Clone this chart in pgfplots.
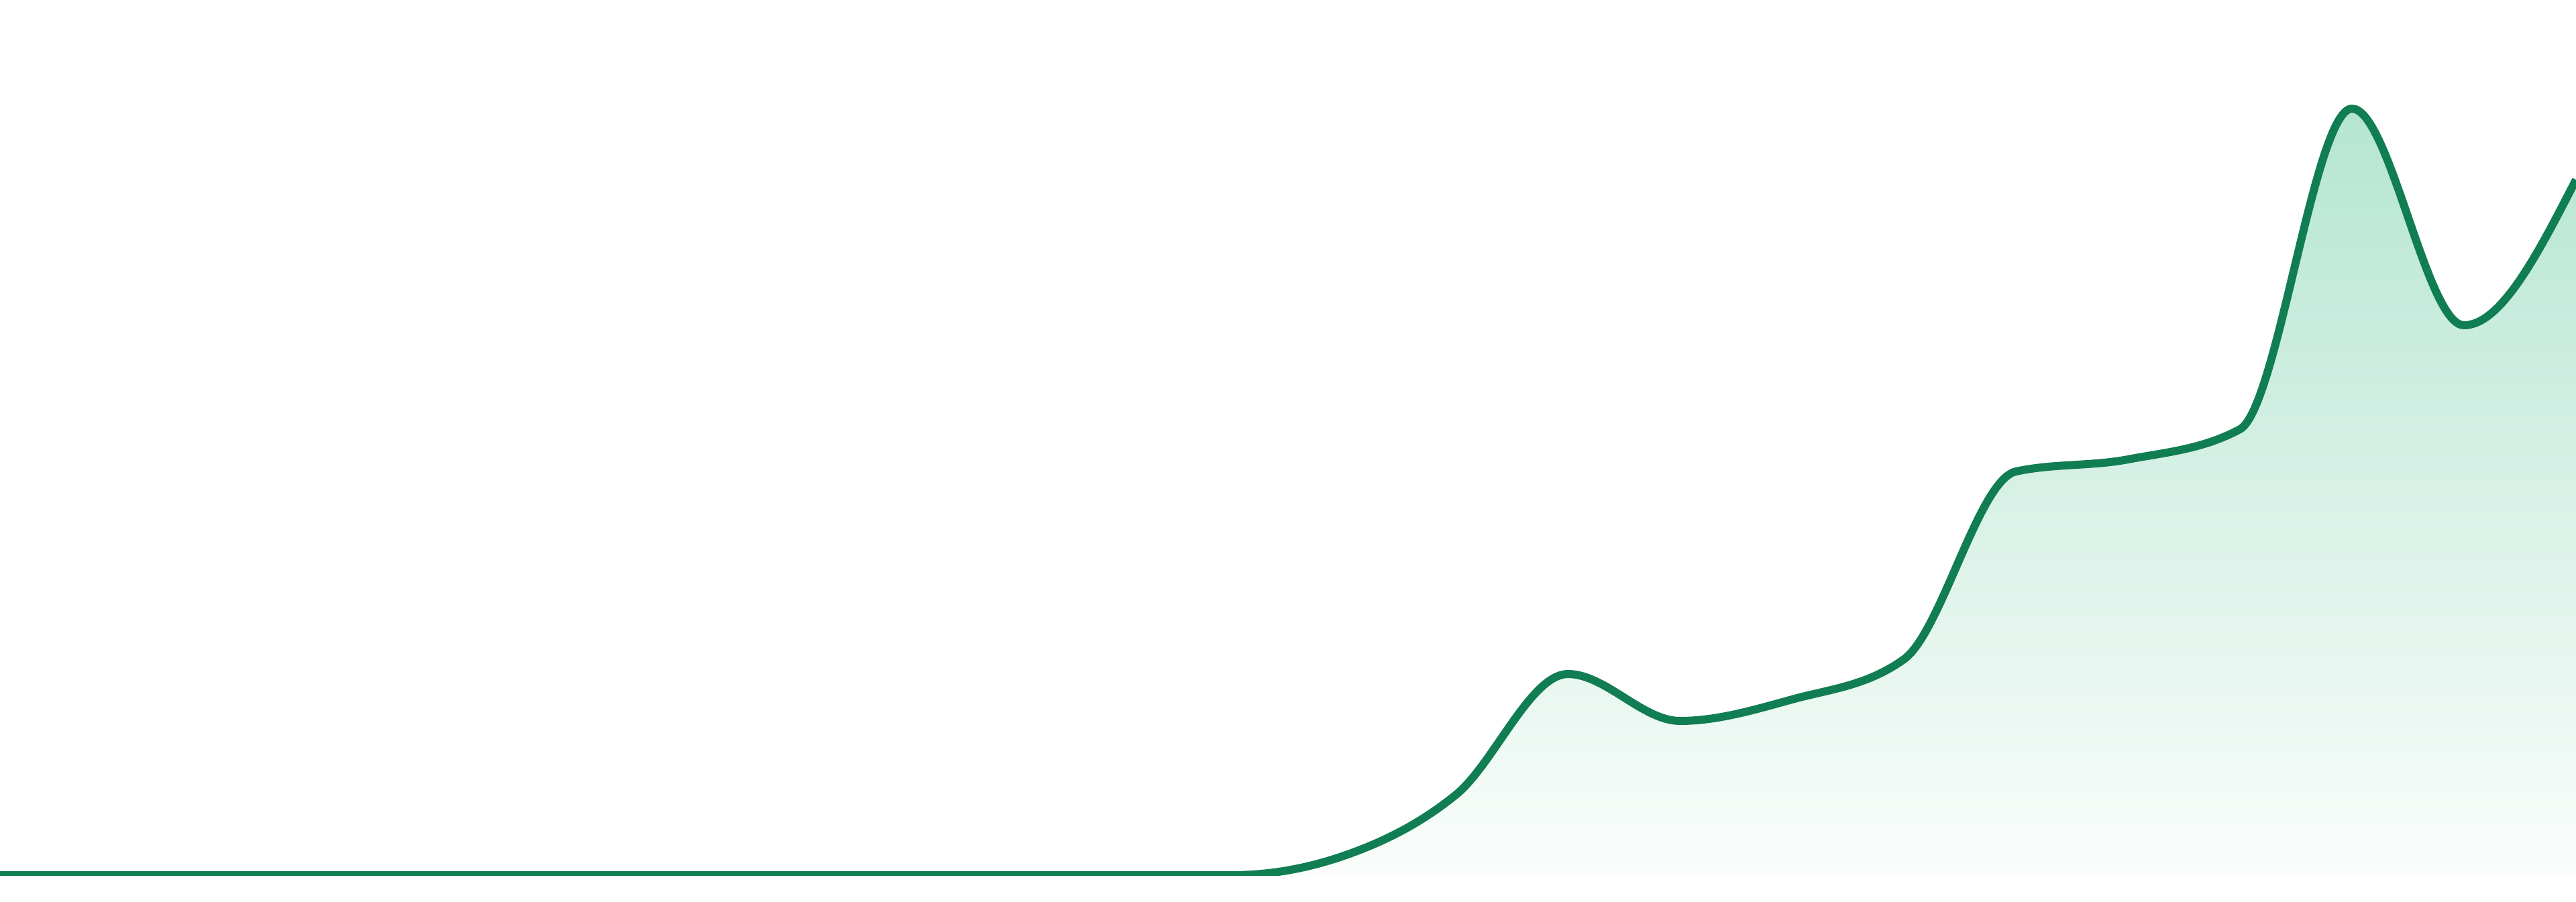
\documentclass[border=0pt]{standalone}
\usepackage{pgfplots}
\pgfplotsset{compat=1.18}
\definecolor{linegreen}{RGB}{17,125,82}
\definecolor{filltop}{RGB}{181,229,211}
\definecolor{fillbot}{RGB}{250,253,251}
\makeatletter
% monotone cubic interpolation (as in d3 curveMonotoneX)
\def\mono@point#1{%
  \pgf@process{#1}%
  \ifcase\mono@n\relax \mono@pA \or \mono@pB \else \mono@pC \fi}
\def\mono@pA{%
  \xdef\mono@xa{\pgf@sys@tonumber\pgf@x}%
  \xdef\mono@ya{\pgf@sys@tonumber\pgf@y}%
  \pgf@plot@first@action{\pgfqpoint{\mono@xa pt}{\mono@ya pt}}%
  \gdef\mono@n{1}}
\def\mono@pB{%
  \xdef\mono@xb{\pgf@sys@tonumber\pgf@x}%
  \xdef\mono@yb{\pgf@sys@tonumber\pgf@y}%
  \pgfmathparse{\mono@xb-\mono@xa}\xdef\mono@h{\pgfmathresult}%
  \pgfmathparse{(\mono@yb-\mono@ya)/\mono@h}\xdef\mono@s{\pgfmathresult}%
  \gdef\mono@n{2}}
\def\mono@pC{%
  \xdef\mono@xc{\pgf@sys@tonumber\pgf@x}%
  \xdef\mono@yc{\pgf@sys@tonumber\pgf@y}%
  \pgfmathparse{\mono@xc-\mono@xb}\xdef\mono@hh{\pgfmathresult}%
  \pgfmathparse{(\mono@yc-\mono@yb)/\mono@hh}\xdef\mono@ss{\pgfmathresult}%
  \pgfmathparse{(\mono@s*\mono@hh+\mono@ss*\mono@h)/(\mono@h+\mono@hh)}\xdef\mono@p{\pgfmathresult}%
  \ifdim\mono@s pt<0pt \def\mono@sa{-1}\else\def\mono@sa{1}\fi
  \ifdim\mono@ss pt<0pt \def\mono@sb{-1}\else\def\mono@sb{1}\fi
  \pgfmathparse{(\mono@sa+\mono@sb)*min(abs(\mono@s),abs(\mono@ss),0.5*abs(\mono@p))}\xdef\mono@mb{\pgfmathresult}%
  \ifnum\mono@n=2
    \pgfmathparse{(3*\mono@s-\mono@mb)/2}\xdef\mono@ma{\pgfmathresult}%
  \fi
  \mono@segment
  \global\let\mono@xa=\mono@xb \global\let\mono@ya=\mono@yb
  \global\let\mono@xb=\mono@xc \global\let\mono@yb=\mono@yc
  \global\let\mono@ma=\mono@mb
  \global\let\mono@s=\mono@ss \global\let\mono@h=\mono@hh
  \gdef\mono@n{3}}
\def\mono@segment{%
  \pgfmathparse{\mono@xa+\mono@h/3}\let\mono@cax=\pgfmathresult
  \pgfmathparse{\mono@ya+\mono@ma*\mono@h/3}\let\mono@cay=\pgfmathresult
  \pgfmathparse{\mono@xb-\mono@h/3}\let\mono@cbx=\pgfmathresult
  \pgfmathparse{\mono@yb-\mono@mb*\mono@h/3}\let\mono@cby=\pgfmathresult
  \pgfpathcurveto{\pgfqpoint{\mono@cax pt}{\mono@cay pt}}%
    {\pgfqpoint{\mono@cbx pt}{\mono@cby pt}}%
    {\pgfqpoint{\mono@xb pt}{\mono@yb pt}}}
\def\mono@end{%
  \ifnum\mono@n=2
    \pgfpathlineto{\pgfqpoint{\mono@xb pt}{\mono@yb pt}}%
  \else\ifnum\mono@n=3
    \pgfmathparse{(3*\mono@s-\mono@ma)/2}\xdef\mono@mb{\pgfmathresult}%
    \mono@segment
  \fi\fi}
\pgfdeclareplothandler{\pgfplothandlermonotone}{}{%
  start=\gdef\mono@n{0},
  point macro=\mono@point,
  end macro=\mono@end,
}
\tikzset{monotone/.code={\let\tikz@plot@handler=\pgfplothandlermonotone}}
\makeatother
\pgfplotstableread{
x y
0 0
1 0
2 0
3 0
4 0
5 0
6 0
7 0
8 0
9 0
10 0
11 0
12 29
13 120
14 300
15 230
16 262
17 322
18 602
19 620
20 665
21 1143
22 820
23 1037
}\datatable
\begin{document}
\begin{tikzpicture}
\path[use as bounding box] (0,0) rectangle (384pt,134.4pt);
\begin{axis}[
  at={(0pt,3.9pt)}, anchor=south west,
  scale only axis, width=384pt, height=130.5pt,
  xmin=0, xmax=23, ymin=0, ymax=1305,
  hide axis, clip=true,
]
\addplot[draw=none, monotone, top color=filltop, bottom color=fillbot] table[x=x,y=y] {\datatable} \closedcycle;
\addplot[linegreen, line width=1.2pt, monotone] table[x=x,y=y] {\datatable};
\end{axis}
\end{tikzpicture}
\end{document}
